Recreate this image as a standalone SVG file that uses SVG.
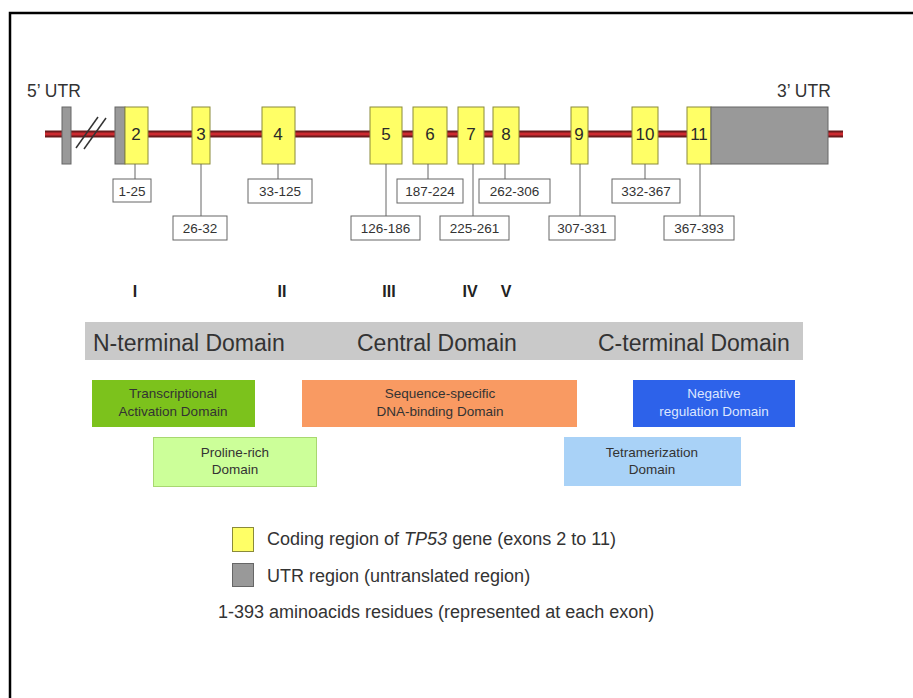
<svg xmlns="http://www.w3.org/2000/svg" width="913" height="698" viewBox="0 0 913 698">
<style>
text{font-family:"Liberation Sans",Arial,sans-serif;fill:#333}
.ex{fill:#ffff66;stroke:#8a8a3a;stroke-width:1}
.utr{fill:#999;stroke:#666;stroke-width:1}
.num{font-size:17px;text-anchor:middle;fill:#2a2a2a}
.lb{fill:#fff;stroke:#666;stroke-width:1}
.lt{font-size:13.5px;text-anchor:middle;fill:#333}
.cn{stroke:#666;stroke-width:1;fill:none}
.rom{font-size:16px;font-weight:bold;text-anchor:middle;fill:#222}
.dom{font-size:23px;fill:#333}
.sd{font-size:13.5px;text-anchor:middle;fill:#333}
.lg{font-size:18px;fill:#333}
</style>
<rect x="0" y="0" width="913" height="698" fill="#fff"/>
<path d="M10 698 V13 H913" fill="none" stroke="#000" stroke-width="2.5"/>

<g id="backbone">
<line x1="45" y1="134" x2="843" y2="134" stroke="#6b1a1c" stroke-width="7"/>
<line x1="45" y1="134" x2="843" y2="134" stroke="#cc2a30" stroke-width="3"/>
<line x1="76" y1="148" x2="98" y2="117" stroke="#333" stroke-width="1.5"/>
<line x1="84" y1="149" x2="106" y2="118" stroke="#333" stroke-width="1.5"/>
</g>

<text x="27" y="97" style="font-size:17.5px">5’ UTR</text>
<text x="777" y="97" style="font-size:17.5px">3’ UTR</text>

<g id="utr5"><rect class="utr" x="62" y="107" width="9" height="57"/></g>
<g id="exon2"><rect class="utr" x="115" y="107" width="10" height="57"/><rect class="ex" x="125" y="107" width="23" height="57"/><text class="num" x="136" y="140">2</text></g>
<g id="exon3"><rect class="ex" x="192" y="107" width="18" height="57"/><text class="num" x="201" y="140">3</text></g>
<g id="exon4"><rect class="ex" x="262" y="107" width="33" height="57"/><text class="num" x="278" y="140">4</text></g>
<g id="exon5"><rect class="ex" x="370" y="107" width="32" height="57"/><text class="num" x="386" y="140">5</text></g>
<g id="exon6"><rect class="ex" x="413" y="107" width="34" height="57"/><text class="num" x="430" y="140">6</text></g>
<g id="exon7"><rect class="ex" x="458" y="107" width="26" height="57"/><text class="num" x="471" y="140">7</text></g>
<g id="exon8"><rect class="ex" x="493" y="107" width="26" height="57"/><text class="num" x="506" y="140">8</text></g>
<g id="exon9"><rect class="ex" x="571" y="107" width="17" height="57"/><text class="num" x="579" y="140">9</text></g>
<g id="exon10"><rect class="ex" x="632" y="107" width="26" height="57"/><text class="num" x="645" y="140">10</text></g>
<g id="exon11"><rect class="ex" x="687" y="107" width="24" height="57"/><text class="num" x="699" y="140">11</text></g>
<g id="utr3"><rect class="utr" x="711" y="107" width="117" height="57"/></g>

<g id="connectors">
<line class="cn" x1="135" y1="164" x2="135" y2="179"/>
<line class="cn" x1="201" y1="164" x2="201" y2="216"/>
<line class="cn" x1="278" y1="164" x2="278" y2="179"/>
<line class="cn" x1="386" y1="164" x2="386" y2="216"/>
<line class="cn" x1="428" y1="164" x2="428" y2="179"/>
<line class="cn" x1="473" y1="164" x2="473" y2="216"/>
<line class="cn" x1="505" y1="164" x2="505" y2="179"/>
<line class="cn" x1="580" y1="164" x2="580" y2="216"/>
<line class="cn" x1="645" y1="164" x2="645" y2="179"/>
<line class="cn" x1="700" y1="164" x2="700" y2="216"/>
</g>

<g id="l1-25"><rect class="lb" x="113" y="179" width="38" height="23"/><text class="lt" x="132" y="196">1-25</text></g>
<g id="l26-32"><rect class="lb" x="173" y="216" width="54" height="24"/><text class="lt" x="200" y="233">26-32</text></g>
<g id="l33-125"><rect class="lb" x="248" y="179" width="64" height="24"/><text class="lt" x="280" y="196">33-125</text></g>
<g id="l126-186"><rect class="lb" x="351" y="216" width="69" height="24"/><text class="lt" x="385.5" y="233">126-186</text></g>
<g id="l187-224"><rect class="lb" x="397" y="179" width="66" height="24"/><text class="lt" x="430" y="196">187-224</text></g>
<g id="l225-261"><rect class="lb" x="440" y="216" width="69" height="24"/><text class="lt" x="474.5" y="233">225-261</text></g>
<g id="l262-306"><rect class="lb" x="479" y="179" width="71" height="24"/><text class="lt" x="514.5" y="196">262-306</text></g>
<g id="l307-331"><rect class="lb" x="549" y="216" width="66" height="24"/><text class="lt" x="582" y="233">307-331</text></g>
<g id="l332-367"><rect class="lb" x="612" y="179" width="68" height="24"/><text class="lt" x="646" y="196">332-367</text></g>
<g id="l367-393"><rect class="lb" x="664" y="216" width="70" height="24"/><text class="lt" x="699" y="233">367-393</text></g>

<g id="roman">
<text class="rom" x="135" y="297">I</text>
<text class="rom" x="282" y="297">II</text>
<text class="rom" x="389" y="297">III</text>
<text class="rom" x="470" y="297">IV</text>
<text class="rom" x="506" y="297">V</text>
</g>

<g id="domainbar">
<rect x="85" y="322" width="718" height="38" fill="#c9c9c9"/>
<text class="dom" x="93" y="351">N-terminal Domain</text>
<text class="dom" x="357" y="351">Central Domain</text>
<text class="dom" x="598" y="351">C-terminal Domain</text>
</g>

<g id="transact"><rect x="92" y="380" width="163" height="47" fill="#7cc21c"/><text class="sd" x="173" y="398">Transcriptional</text><text class="sd" x="173" y="416">Activation Domain</text></g>
<g id="proline"><rect x="153.5" y="437.5" width="163" height="49" fill="#ccff99" stroke="#a8d870" stroke-width="1"/><text class="sd" x="235" y="457">Proline-rich</text><text class="sd" x="235" y="474">Domain</text></g>
<g id="dnabind"><rect x="302" y="380" width="275" height="47" fill="#f99a62"/><text class="sd" x="440" y="398">Sequence-specific</text><text class="sd" x="440" y="416">DNA-binding Domain</text></g>
<g id="negreg"><rect x="633" y="380" width="162" height="47" fill="#2d62ea"/><text class="sd" x="714" y="398" style="fill:#dce6ff">Negative</text><text class="sd" x="714" y="416" style="fill:#dce6ff">regulation Domain</text></g>
<g id="tetra"><rect x="564" y="437" width="177" height="49" fill="#a9d2f7"/><text class="sd" x="652" y="457">Tetramerization</text><text class="sd" x="652" y="474">Domain</text></g>

<g id="legend">
<rect class="ex" x="232.5" y="527.5" width="21" height="24"/>
<text class="lg" x="267" y="545">Coding region of <tspan font-style="italic">TP53</tspan> gene (exons 2 to 11)</text>
<rect class="utr" x="232.5" y="563.5" width="21" height="23"/>
<text class="lg" x="267" y="582">UTR region (untranslated region)</text>
<text class="lg" x="218" y="618">1-393 aminoacids residues (represented at each exon)</text>
</g>
</svg>
